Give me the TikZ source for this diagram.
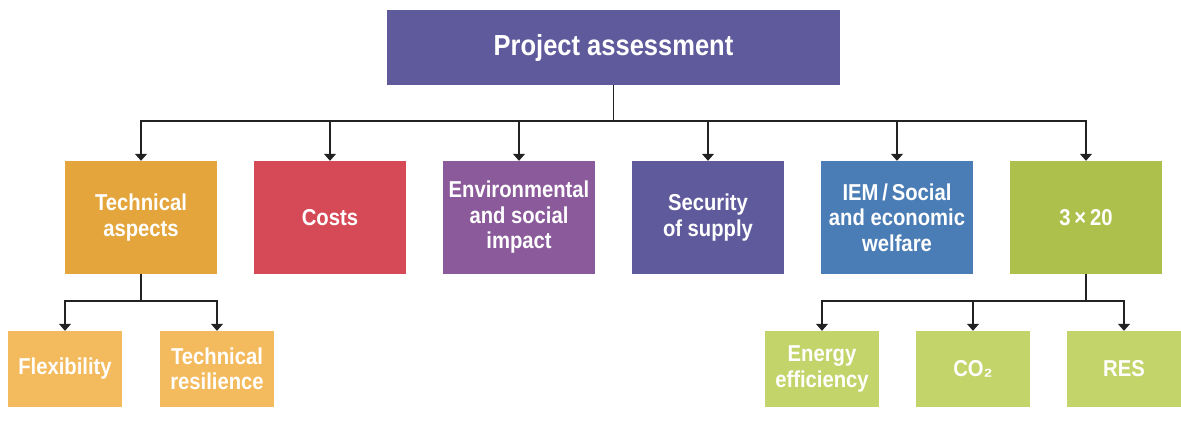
\documentclass[tikz,border=0pt]{standalone}
\usepackage{fontspec}
\setmainfont{Liberation Sans}[FakeStretch=0.88]
\usetikzlibrary{arrows.meta}
\definecolor{cTop}{HTML}{5F5A9C}
\definecolor{cTech}{HTML}{E3A53C}
\definecolor{cCost}{HTML}{D64A57}
\definecolor{cEnv}{HTML}{8B5A9A}
\definecolor{cSec}{HTML}{5F5A9C}
\definecolor{cIEM}{HTML}{4A7CB5}
\definecolor{cTwenty}{HTML}{ADC04B}
\definecolor{cLightO}{HTML}{F4BA5E}
\definecolor{cLightG}{HTML}{C2D46A}
\definecolor{cLine}{HTML}{222222}
\begin{document}
\begin{tikzpicture}[x=1pt,y=-1pt,
  box/.style={draw=none,minimum width=152pt,minimum height=113pt,inner sep=0pt,
    text=white,font=\bfseries\fontsize{23}{25.5}\selectfont,align=center},
  subbox/.style={box,minimum width=114pt,minimum height=76pt},
  conn/.style={draw=cLine,line width=1.1pt,-{Triangle[width=12pt,length=7pt]}},
  plain/.style={draw=cLine,line width=1.1pt}]
\useasboundingbox (0,0) rectangle (1181,432);
\node[box,minimum width=453pt,minimum height=75pt,fill=cTop,font=\bfseries\fontsize{29}{32}\selectfont] (top) at (613.5,47.5) {Project assessment};
\node[box,fill=cTech] (tech) at (141,217.5) {Technical\\aspects};
\node[box,fill=cCost] (cost) at (330,217.5) {Costs};
\node[box,fill=cEnv] (env) at (519,217.5) {Environmental\\and social\\impact};
\node[box,fill=cSec] (sec) at (708,217.5) {Security\\of supply};
\node[box,fill=cIEM] (iem) at (897,217.5) {IEM\,/\,Social\\and economic\\welfare};
\node[box,fill=cTwenty] (tw) at (1086,217.5) {3\,×\,20};
\node[subbox,fill=cLightO] (flex) at (65,369) {Flexibility};
\node[subbox,fill=cLightO] (res) at (217,369) {Technical\\resilience};
\node[subbox,fill=cLightG] (ee) at (822,369) {Energy\\efficiency};
\node[subbox,fill=cLightG] (co) at (973,369) {CO₂};
\node[subbox,fill=cLightG] (rs) at (1124,369) {RES};
\coordinate (hub) at (613.5,121);
\coordinate (hubT) at (141,301);
\coordinate (hubR) at (1086,301);
\draw[plain] (top.south) -- (hub);
\foreach \n in {tech,cost,env,sec,iem,tw}{
  \draw[conn] (hub) -| (\n.north);
}
\draw[plain] (tech.south) -- (hubT);
\foreach \n in {flex,res}{ \draw[conn] (hubT) -| (\n.north); }
\draw[plain] (tw.south) -- (hubR);
\foreach \n in {ee,co,rs}{ \draw[conn] (hubR) -| (\n.north); }
\end{tikzpicture}
\end{document}
